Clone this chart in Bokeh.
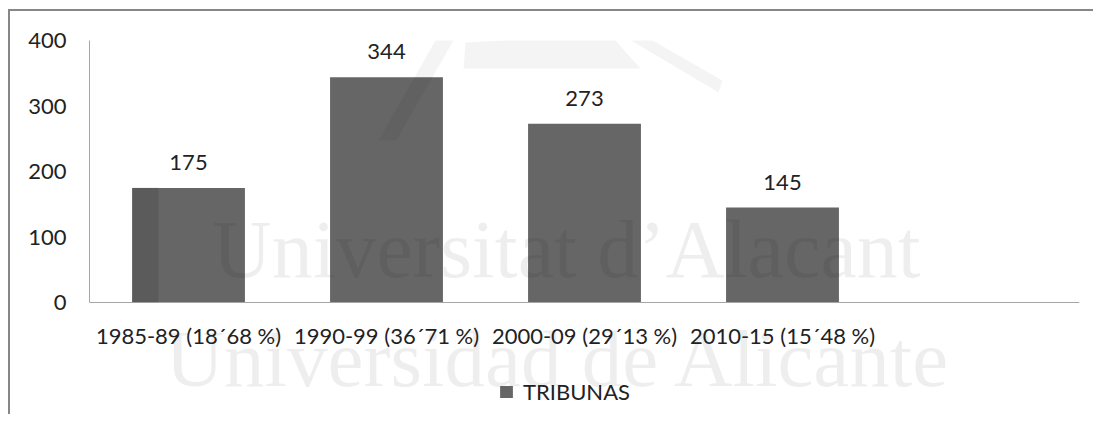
from bokeh.plotting import figure
from bokeh.models import (ColumnDataSource, FactorRange, LabelSet, Legend, LegendItem,
                          FixedTicker, BoxAnnotation, PolyAnnotation, Span, Range1d)
from bokeh.core.properties import value
from bokeh.embed import file_html
from bokeh.resources import INLINE

# ---- data ----
categories = ["1985-89 (18´68 %)", "1990-99 (36´71 %)", "2000-09 (29´13 %)", "2010-15 (15´48 %)"]
values = [175, 344, 273, 145]
series_name = "TRIBUNAS"
y_ticks = [0, 100, 200, 300, 400]
y_max = 400

FONT = "Lato"
TXT = "#222222"

# ---- layout (pixels) ----
W, H = 1085, 405
LEFT, TOP, RIGHT = 79, 29, 16
FRAME_H = H - TOP
AXIS_H = 262                      # pixel height from value 0 to y_max
PX = y_max / AXIS_H               # data units per pixel
y_min = -(FRAME_H - AXIS_H) * PX  # room below the axis for labels and legend
BELOW = FRAME_H - AXIS_H          # pixels from frame bottom to the value-0 line

source = ColumnDataSource(dict(cat=categories, val=values, lab=[str(v) for v in values],
                               zero=[0] * len(values)))

p = figure(
    width=W, height=H,
    x_range=FactorRange(factors=categories + [" "]),
    y_range=Range1d(y_min, y_max),
    x_axis_location=None,
    output_backend="svg", toolbar_location=None,
    min_border_left=LEFT, min_border_right=RIGHT, min_border_top=TOP, min_border_bottom=0,
)
p.styles = {"border-left": "2px solid #878787", "border-top": "2px solid #878787",
            "margin-left": "8px", "margin-top": "9px"}
p.outline_line_color = None
p.background_fill_color = "white"
p.border_fill_color = "white"
p.xgrid.grid_line_color = None
p.ygrid.grid_line_color = None

r = p.vbar(x="cat", top="val", width=0.57, source=source,
           fill_color="#666666", line_color=None)

# faint watermark (decoration)
p.text(x=[0.621], y=[53 * PX], text=["Universitat d\u2019Alacant"],
       text_font=value("Liberation Serif"), text_font_size="82px", text_color="black",
       text_alpha=0.065, text_baseline="alphabetic", text_align="left")
p.text(x=[0.384], y=[-56 * PX], text=["Universidad de Alicante"],
       text_font=value("Liberation Serif"), text_font_size="81px", text_color="black",
       text_alpha=0.065, text_baseline="alphabetic", text_align="left")

# y axis
yax = p.yaxis[0]
yax.ticker = FixedTicker(ticks=y_ticks)
yax.bounds = (0, y_max)
yax.axis_line_color = "#a6a6a6"
yax.major_tick_line_color = None
yax.minor_tick_line_color = None
yax.major_tick_out = 0
yax.major_tick_in = 0
yax.major_label_text_font = FONT
yax.major_label_text_font_size = "22px"
yax.major_label_text_color = TXT
yax.major_label_standoff = 23

# x axis line and category labels
p.add_layout(Span(location=0, dimension="width", line_color="#a6a6a6", line_width=1))
p.add_layout(LabelSet(x="cat", y="zero", text="cat", source=source, y_offset=-41,
                      text_align="center", text_baseline="alphabetic",
                      text_font=value(FONT), text_font_size=value("22px"), text_color=TXT))

# value labels
p.add_layout(LabelSet(x="cat", y="val", text="lab", source=source, y_offset=18,
                      text_align="center", text_baseline="alphabetic",
                      text_font=value(FONT), text_font_size=value("22px"), text_color=TXT))

# legend
legend = Legend(items=[LegendItem(label=series_name, renderers=[r])],
                location=(409, 11), orientation="horizontal",
                glyph_width=16, glyph_height=15, label_standoff=9,
                padding=0, margin=0, spacing=0,
                border_line_color=None, background_fill_alpha=0,
                label_text_font=FONT, label_text_font_size="22px", label_text_color=TXT)
p.add_layout(legend)

p.add_layout(BoxAnnotation(left=43, right=69, bottom=BELOW, top=BELOW + 115,
                           left_units="screen", right_units="screen",
                           top_units="screen", bottom_units="screen",
                           fill_color="black", fill_alpha=0.1, line_color=None))
logo_alpha = 0.045
for xs, ys in [
    ([289, 307, 381, 363], [162, 162, 292, 292]),
    ([376, 506, 526, 551, 374], [260, 267, 262, 234, 234]),
    ([491, 511, 633, 629], [292, 292, 222, 210]),
]:
    p.add_layout(PolyAnnotation(xs=xs, ys=[v + BELOW for v in ys], xs_units="screen", ys_units="screen",
                                fill_color="black", fill_alpha=logo_alpha, line_color=None))

open("out.html", "w").write(file_html(p, INLINE))
